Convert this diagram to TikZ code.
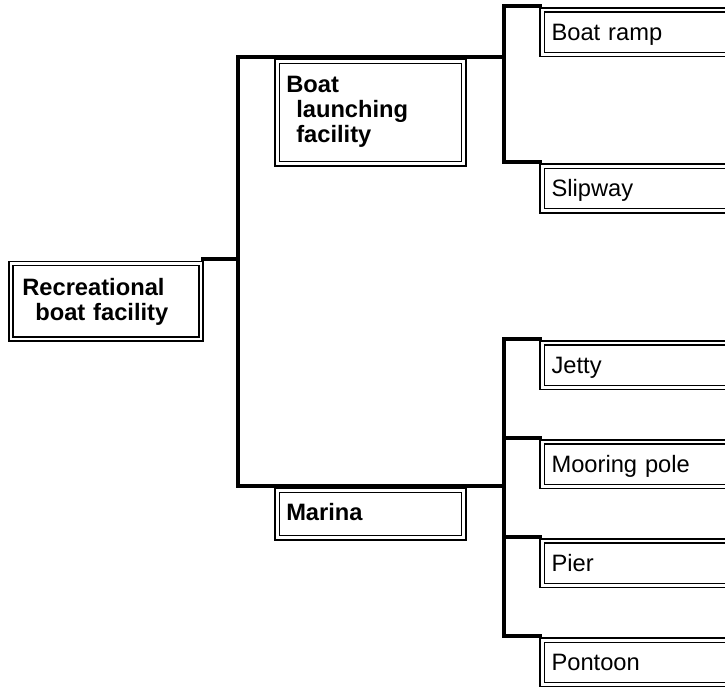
\documentclass[tikz,border=0pt]{standalone}
\usepackage{fontspec}
\setmainfont{Liberation Sans}
\begin{document}
\begin{tikzpicture}[x=1pt,y=-1pt,
  box/.style={draw, double, line width=1.6pt, double distance=2.6pt, rectangle,
    anchor=north west, outer sep=0pt, inner ysep=0pt, align=left,
    font=\fontsize{23.7}{25}\selectfont},
  rootbox/.style={box, font=\fontsize{23.7}{25}\selectfont\bfseries,
    minimum width=190pt, minimum height=75.5pt, inner xsep=11.3pt, text width=167.4pt},
  midbox/.style={box, font=\fontsize{23.7}{25}\selectfont\bfseries,
    minimum width=186.5pt, inner xsep=9pt, text width=168.5pt},
  leafbox/.style={box, minimum width=220pt, minimum height=44.5pt,
    inner xsep=9.3pt, text width=201.4pt, text height=18pt, text depth=2pt},
  conn/.style={draw, line width=4.4pt, line cap=butt, line join=miter}
]
\useasboundingbox (0,0) rectangle (725,687);
\clip (0,0) rectangle (725,687);
\fill[white] (0,0) rectangle (725,687);

% boxes
\node[rootbox, text height=18pt, text depth=30.5pt] (root) at (11,263.5)
  {Recreational\\\hspace*{13pt}boat facility};
\node[midbox, minimum height=102.5pt, text height=18pt, text depth=57pt] (blf) at (277.25,61.25)
  {Boat\\\hspace*{10pt}launching\\\hspace*{10pt}facility};
\node[midbox, minimum height=47.5pt, text height=16pt, text depth=4pt] (mar) at (277.25,490.25)
  {Marina};

\node[leafbox] (ramp) at (542.25,10) {Boat ramp};
\node[leafbox] (slip) at (542.25,166.25) {Slipway};
\node[leafbox] (jetty) at (542.25,343) {Jetty};
\node[leafbox] (moor) at (542.25,442) {Mooring pole};
\node[leafbox] (pier) at (542.25,541) {Pier};
\node[leafbox] (pont) at (542.25,640.25) {Pontoon};

% connector reference points
\coordinate (tr) at (238,0);
\coordinate (br) at (504,0);
\coordinate (r0) at ([yshift=4.25pt]root.north east);
\coordinate (b0) at ([yshift=4.25pt]blf.north west);
\coordinate (m0) at ([yshift=4.25pt]mar.north west);
\coordinate (ramp0) at ([yshift=4.25pt]ramp.north west);
\coordinate (slip0) at ([yshift=4.25pt]slip.north west);
\coordinate (jetty0) at ([yshift=4.25pt]jetty.north west);
\coordinate (moor0) at ([yshift=4.25pt]moor.north west);
\coordinate (pier0) at ([yshift=4.25pt]pier.north west);
\coordinate (pont0) at ([yshift=4.25pt]pont.north west);

% connectors
\draw[conn] (r0) -- (tr |- r0);
\draw[conn] (br |- b0) -- (tr |- b0) -- (tr |- m0) -- (br |- m0);
\draw[conn] (ramp0) -- (br |- ramp0) -- (br |- slip0) -- (slip0);
\draw[conn] (jetty0) -- (br |- jetty0) -- (br |- pont0) -- (pont0);
\draw[conn] (moor0) -- (br |- moor0);
\draw[conn] (pier0) -- (br |- pier0);
\end{tikzpicture}
\end{document}
